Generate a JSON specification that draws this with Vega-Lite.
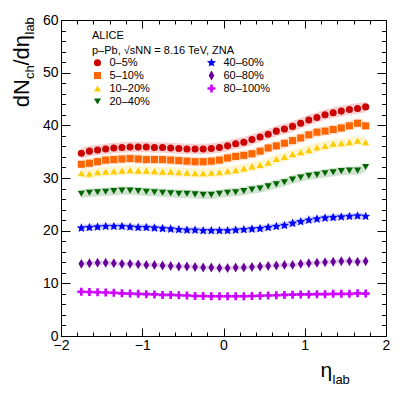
{
"$schema": "https://vega.github.io/schema/vega-lite/v6.json",
"width": 325, "height": 316,
"autosize": "none",
"padding": {"left": 61, "top": 20, "right": 21, "bottom": 60},
"background": "white",
"config": {
  "view": {"stroke": "black", "strokeWidth": 1},
  "font": "Liberation Sans",
  "axis": {"grid": false, "labelFont": "Liberation Sans", "titleFont": "Liberation Sans", "tickColor": "black", "domainColor": "black", "labelColor": "black", "titleColor": "black", "titleFontWeight": "normal", "tickWidth": 1, "domainWidth": 1, "labelFlush": false, "labelOverlap": false, "labelBound": false}
},
"data": {"values": [
{"c":"0–5%","x":-1.75,"v":34.7,"e":1.0},{"c":"0–5%","x":-1.65,"v":35.1,"e":1.0},{"c":"0–5%","x":-1.55,"v":35.3,"e":1.0},{"c":"0–5%","x":-1.45,"v":35.5,"e":1.0},{"c":"0–5%","x":-1.35,"v":35.7,"e":1.0},{"c":"0–5%","x":-1.25,"v":35.8,"e":1.0},{"c":"0–5%","x":-1.15,"v":35.9,"e":1.0},{"c":"0–5%","x":-1.05,"v":35.9,"e":1.0},{"c":"0–5%","x":-0.95,"v":35.9,"e":1.0},{"c":"0–5%","x":-0.85,"v":35.8,"e":1.0},{"c":"0–5%","x":-0.75,"v":35.8,"e":1.0},{"c":"0–5%","x":-0.65,"v":35.7,"e":1.0},{"c":"0–5%","x":-0.55,"v":35.6,"e":1.0},{"c":"0–5%","x":-0.45,"v":35.5,"e":1.0},{"c":"0–5%","x":-0.35,"v":35.5,"e":1.0},{"c":"0–5%","x":-0.25,"v":35.5,"e":1.0},{"c":"0–5%","x":-0.15,"v":35.6,"e":1.0},{"c":"0–5%","x":-0.05,"v":35.8,"e":1.0},{"c":"0–5%","x":0.05,"v":36.1,"e":1.0},{"c":"0–5%","x":0.15,"v":36.5,"e":1.0},{"c":"0–5%","x":0.25,"v":36.8,"e":1.0},{"c":"0–5%","x":0.35,"v":37.3,"e":1.0},{"c":"0–5%","x":0.45,"v":37.8,"e":1.0},{"c":"0–5%","x":0.55,"v":38.3,"e":1.0},{"c":"0–5%","x":0.65,"v":38.9,"e":1.0},{"c":"0–5%","x":0.75,"v":39.3,"e":1.0},{"c":"0–5%","x":0.85,"v":39.8,"e":1.0},{"c":"0–5%","x":0.95,"v":40.4,"e":1.0},{"c":"0–5%","x":1.05,"v":41.0,"e":1.0},{"c":"0–5%","x":1.15,"v":41.5,"e":1.0},{"c":"0–5%","x":1.25,"v":42.0,"e":1.0},{"c":"0–5%","x":1.35,"v":42.4,"e":1.0},{"c":"0–5%","x":1.45,"v":42.7,"e":1.0},{"c":"0–5%","x":1.55,"v":43.0,"e":1.0},{"c":"0–5%","x":1.65,"v":43.2,"e":1.0},{"c":"0–5%","x":1.75,"v":43.5,"e":1.0},
{"c":"5–10%","x":-1.75,"v":32.6,"e":0.9},{"c":"5–10%","x":-1.65,"v":32.8,"e":0.9},{"c":"5–10%","x":-1.55,"v":33.1,"e":0.9},{"c":"5–10%","x":-1.45,"v":33.4,"e":0.9},{"c":"5–10%","x":-1.35,"v":33.5,"e":0.9},{"c":"5–10%","x":-1.25,"v":33.6,"e":0.9},{"c":"5–10%","x":-1.15,"v":33.7,"e":0.9},{"c":"5–10%","x":-1.05,"v":33.6,"e":0.9},{"c":"5–10%","x":-0.95,"v":33.5,"e":0.9},{"c":"5–10%","x":-0.85,"v":33.5,"e":0.9},{"c":"5–10%","x":-0.75,"v":33.5,"e":0.9},{"c":"5–10%","x":-0.65,"v":33.4,"e":0.9},{"c":"5–10%","x":-0.55,"v":33.3,"e":0.9},{"c":"5–10%","x":-0.45,"v":33.2,"e":0.9},{"c":"5–10%","x":-0.35,"v":33.1,"e":0.9},{"c":"5–10%","x":-0.25,"v":33.1,"e":0.9},{"c":"5–10%","x":-0.15,"v":33.2,"e":0.9},{"c":"5–10%","x":-0.05,"v":33.4,"e":0.9},{"c":"5–10%","x":0.05,"v":33.8,"e":0.9},{"c":"5–10%","x":0.15,"v":34.1,"e":0.9},{"c":"5–10%","x":0.25,"v":34.3,"e":0.9},{"c":"5–10%","x":0.35,"v":34.6,"e":0.9},{"c":"5–10%","x":0.45,"v":35.1,"e":0.9},{"c":"5–10%","x":0.55,"v":35.7,"e":0.9},{"c":"5–10%","x":0.65,"v":36.1,"e":0.9},{"c":"5–10%","x":0.75,"v":36.6,"e":0.9},{"c":"5–10%","x":0.85,"v":37.1,"e":0.9},{"c":"5–10%","x":0.95,"v":37.6,"e":0.9},{"c":"5–10%","x":1.05,"v":38.2,"e":0.9},{"c":"5–10%","x":1.15,"v":38.7,"e":0.9},{"c":"5–10%","x":1.25,"v":38.9,"e":0.9},{"c":"5–10%","x":1.35,"v":39.2,"e":0.9},{"c":"5–10%","x":1.45,"v":39.5,"e":0.9},{"c":"5–10%","x":1.55,"v":39.9,"e":0.9},{"c":"5–10%","x":1.65,"v":40.4,"e":0.9},{"c":"5–10%","x":1.75,"v":39.9,"e":0.9},
{"c":"10–20%","x":-1.75,"v":30.9,"e":0.9},{"c":"10–20%","x":-1.65,"v":30.8,"e":0.9},{"c":"10–20%","x":-1.55,"v":31.1,"e":0.9},{"c":"10–20%","x":-1.45,"v":31.2,"e":0.9},{"c":"10–20%","x":-1.35,"v":31.3,"e":0.9},{"c":"10–20%","x":-1.25,"v":31.4,"e":0.9},{"c":"10–20%","x":-1.15,"v":31.5,"e":0.9},{"c":"10–20%","x":-1.05,"v":31.4,"e":0.9},{"c":"10–20%","x":-0.95,"v":31.4,"e":0.9},{"c":"10–20%","x":-0.85,"v":31.3,"e":0.9},{"c":"10–20%","x":-0.75,"v":31.2,"e":0.9},{"c":"10–20%","x":-0.65,"v":31.2,"e":0.9},{"c":"10–20%","x":-0.55,"v":31.1,"e":0.9},{"c":"10–20%","x":-0.45,"v":31.0,"e":0.9},{"c":"10–20%","x":-0.35,"v":30.9,"e":0.9},{"c":"10–20%","x":-0.25,"v":30.9,"e":0.9},{"c":"10–20%","x":-0.15,"v":31.0,"e":0.9},{"c":"10–20%","x":-0.05,"v":31.1,"e":0.9},{"c":"10–20%","x":0.05,"v":31.3,"e":0.9},{"c":"10–20%","x":0.15,"v":31.5,"e":0.9},{"c":"10–20%","x":0.25,"v":31.8,"e":0.9},{"c":"10–20%","x":0.35,"v":32.2,"e":0.9},{"c":"10–20%","x":0.45,"v":32.5,"e":0.9},{"c":"10–20%","x":0.55,"v":32.9,"e":0.9},{"c":"10–20%","x":0.65,"v":33.6,"e":0.9},{"c":"10–20%","x":0.75,"v":34.0,"e":0.9},{"c":"10–20%","x":0.85,"v":34.5,"e":0.9},{"c":"10–20%","x":0.95,"v":34.9,"e":0.9},{"c":"10–20%","x":1.05,"v":35.3,"e":0.9},{"c":"10–20%","x":1.15,"v":35.8,"e":0.9},{"c":"10–20%","x":1.25,"v":36.1,"e":0.9},{"c":"10–20%","x":1.35,"v":36.5,"e":0.9},{"c":"10–20%","x":1.45,"v":36.6,"e":0.9},{"c":"10–20%","x":1.55,"v":36.8,"e":0.9},{"c":"10–20%","x":1.65,"v":37.1,"e":0.9},{"c":"10–20%","x":1.75,"v":36.8,"e":0.9},
{"c":"20–40%","x":-1.75,"v":27.0,"e":0.8},{"c":"20–40%","x":-1.65,"v":27.2,"e":0.8},{"c":"20–40%","x":-1.55,"v":27.3,"e":0.8},{"c":"20–40%","x":-1.45,"v":27.4,"e":0.8},{"c":"20–40%","x":-1.35,"v":27.5,"e":0.8},{"c":"20–40%","x":-1.25,"v":27.6,"e":0.8},{"c":"20–40%","x":-1.15,"v":27.6,"e":0.8},{"c":"20–40%","x":-1.05,"v":27.5,"e":0.8},{"c":"20–40%","x":-0.95,"v":27.4,"e":0.8},{"c":"20–40%","x":-0.85,"v":27.3,"e":0.8},{"c":"20–40%","x":-0.75,"v":27.2,"e":0.8},{"c":"20–40%","x":-0.65,"v":27.1,"e":0.8},{"c":"20–40%","x":-0.55,"v":27.0,"e":0.8},{"c":"20–40%","x":-0.45,"v":27.0,"e":0.8},{"c":"20–40%","x":-0.35,"v":26.9,"e":0.8},{"c":"20–40%","x":-0.25,"v":26.8,"e":0.8},{"c":"20–40%","x":-0.15,"v":26.8,"e":0.8},{"c":"20–40%","x":-0.05,"v":27.0,"e":0.8},{"c":"20–40%","x":0.05,"v":27.2,"e":0.8},{"c":"20–40%","x":0.15,"v":27.3,"e":0.8},{"c":"20–40%","x":0.25,"v":27.5,"e":0.8},{"c":"20–40%","x":0.35,"v":27.8,"e":0.8},{"c":"20–40%","x":0.45,"v":28.0,"e":0.8},{"c":"20–40%","x":0.55,"v":28.4,"e":0.8},{"c":"20–40%","x":0.65,"v":28.8,"e":0.8},{"c":"20–40%","x":0.75,"v":29.2,"e":0.8},{"c":"20–40%","x":0.85,"v":29.7,"e":0.8},{"c":"20–40%","x":0.95,"v":30.1,"e":0.8},{"c":"20–40%","x":1.05,"v":30.4,"e":0.8},{"c":"20–40%","x":1.15,"v":30.6,"e":0.8},{"c":"20–40%","x":1.25,"v":30.9,"e":0.8},{"c":"20–40%","x":1.35,"v":31.1,"e":0.8},{"c":"20–40%","x":1.45,"v":31.3,"e":0.8},{"c":"20–40%","x":1.55,"v":31.4,"e":0.8},{"c":"20–40%","x":1.65,"v":31.4,"e":0.8},{"c":"20–40%","x":1.75,"v":32.1,"e":0.8},
{"c":"40–60%","x":-1.75,"v":20.5,"e":0.6},{"c":"40–60%","x":-1.65,"v":20.6,"e":0.6},{"c":"40–60%","x":-1.55,"v":20.7,"e":0.6},{"c":"40–60%","x":-1.45,"v":20.8,"e":0.6},{"c":"40–60%","x":-1.35,"v":20.8,"e":0.6},{"c":"40–60%","x":-1.25,"v":20.8,"e":0.6},{"c":"40–60%","x":-1.15,"v":20.7,"e":0.6},{"c":"40–60%","x":-1.05,"v":20.6,"e":0.6},{"c":"40–60%","x":-0.95,"v":20.6,"e":0.6},{"c":"40–60%","x":-0.85,"v":20.5,"e":0.6},{"c":"40–60%","x":-0.75,"v":20.4,"e":0.6},{"c":"40–60%","x":-0.65,"v":20.3,"e":0.6},{"c":"40–60%","x":-0.55,"v":20.2,"e":0.6},{"c":"40–60%","x":-0.45,"v":20.1,"e":0.6},{"c":"40–60%","x":-0.35,"v":20.1,"e":0.6},{"c":"40–60%","x":-0.25,"v":20.0,"e":0.6},{"c":"40–60%","x":-0.15,"v":20.0,"e":0.6},{"c":"40–60%","x":-0.05,"v":20.0,"e":0.6},{"c":"40–60%","x":0.05,"v":20.0,"e":0.6},{"c":"40–60%","x":0.15,"v":20.1,"e":0.6},{"c":"40–60%","x":0.25,"v":20.2,"e":0.6},{"c":"40–60%","x":0.35,"v":20.3,"e":0.6},{"c":"40–60%","x":0.45,"v":20.4,"e":0.6},{"c":"40–60%","x":0.55,"v":20.6,"e":0.6},{"c":"40–60%","x":0.65,"v":20.8,"e":0.6},{"c":"40–60%","x":0.75,"v":21.0,"e":0.6},{"c":"40–60%","x":0.85,"v":21.4,"e":0.6},{"c":"40–60%","x":0.95,"v":21.7,"e":0.6},{"c":"40–60%","x":1.05,"v":22.0,"e":0.6},{"c":"40–60%","x":1.15,"v":22.2,"e":0.6},{"c":"40–60%","x":1.25,"v":22.4,"e":0.6},{"c":"40–60%","x":1.35,"v":22.5,"e":0.6},{"c":"40–60%","x":1.45,"v":22.6,"e":0.6},{"c":"40–60%","x":1.55,"v":22.7,"e":0.6},{"c":"40–60%","x":1.65,"v":22.8,"e":0.6},{"c":"40–60%","x":1.75,"v":22.7,"e":0.6},
{"c":"60–80%","x":-1.75,"v":13.7,"e":0.4},{"c":"60–80%","x":-1.65,"v":13.8,"e":0.4},{"c":"60–80%","x":-1.55,"v":13.9,"e":0.4},{"c":"60–80%","x":-1.45,"v":13.9,"e":0.4},{"c":"60–80%","x":-1.35,"v":13.8,"e":0.4},{"c":"60–80%","x":-1.25,"v":13.7,"e":0.4},{"c":"60–80%","x":-1.15,"v":13.7,"e":0.4},{"c":"60–80%","x":-1.05,"v":13.6,"e":0.4},{"c":"60–80%","x":-0.95,"v":13.5,"e":0.4},{"c":"60–80%","x":-0.85,"v":13.5,"e":0.4},{"c":"60–80%","x":-0.75,"v":13.4,"e":0.4},{"c":"60–80%","x":-0.65,"v":13.3,"e":0.4},{"c":"60–80%","x":-0.55,"v":13.2,"e":0.4},{"c":"60–80%","x":-0.45,"v":13.2,"e":0.4},{"c":"60–80%","x":-0.35,"v":13.1,"e":0.4},{"c":"60–80%","x":-0.25,"v":13.0,"e":0.4},{"c":"60–80%","x":-0.15,"v":13.0,"e":0.4},{"c":"60–80%","x":-0.05,"v":12.9,"e":0.4},{"c":"60–80%","x":0.05,"v":12.9,"e":0.4},{"c":"60–80%","x":0.15,"v":13.0,"e":0.4},{"c":"60–80%","x":0.25,"v":13.0,"e":0.4},{"c":"60–80%","x":0.35,"v":13.1,"e":0.4},{"c":"60–80%","x":0.45,"v":13.2,"e":0.4},{"c":"60–80%","x":0.55,"v":13.3,"e":0.4},{"c":"60–80%","x":0.65,"v":13.4,"e":0.4},{"c":"60–80%","x":0.75,"v":13.5,"e":0.4},{"c":"60–80%","x":0.85,"v":13.5,"e":0.4},{"c":"60–80%","x":0.95,"v":13.7,"e":0.4},{"c":"60–80%","x":1.05,"v":13.8,"e":0.4},{"c":"60–80%","x":1.15,"v":13.9,"e":0.4},{"c":"60–80%","x":1.25,"v":14.0,"e":0.4},{"c":"60–80%","x":1.35,"v":14.1,"e":0.4},{"c":"60–80%","x":1.45,"v":14.2,"e":0.4},{"c":"60–80%","x":1.55,"v":14.2,"e":0.4},{"c":"60–80%","x":1.65,"v":14.1,"e":0.4},{"c":"60–80%","x":1.75,"v":14.2,"e":0.4},
{"c":"80–100%","x":-1.75,"v":8.4,"e":0.3},{"c":"80–100%","x":-1.65,"v":8.35,"e":0.3},{"c":"80–100%","x":-1.55,"v":8.3,"e":0.3},{"c":"80–100%","x":-1.45,"v":8.25,"e":0.3},{"c":"80–100%","x":-1.35,"v":8.2,"e":0.3},{"c":"80–100%","x":-1.25,"v":8.1,"e":0.3},{"c":"80–100%","x":-1.15,"v":8.05,"e":0.3},{"c":"80–100%","x":-1.05,"v":8.0,"e":0.3},{"c":"80–100%","x":-0.95,"v":7.95,"e":0.3},{"c":"80–100%","x":-0.85,"v":7.9,"e":0.3},{"c":"80–100%","x":-0.75,"v":7.8,"e":0.3},{"c":"80–100%","x":-0.65,"v":7.8,"e":0.3},{"c":"80–100%","x":-0.55,"v":7.75,"e":0.3},{"c":"80–100%","x":-0.45,"v":7.7,"e":0.3},{"c":"80–100%","x":-0.35,"v":7.6,"e":0.3},{"c":"80–100%","x":-0.25,"v":7.6,"e":0.3},{"c":"80–100%","x":-0.15,"v":7.55,"e":0.3},{"c":"80–100%","x":-0.05,"v":7.55,"e":0.3},{"c":"80–100%","x":0.05,"v":7.55,"e":0.3},{"c":"80–100%","x":0.15,"v":7.55,"e":0.3},{"c":"80–100%","x":0.25,"v":7.55,"e":0.3},{"c":"80–100%","x":0.35,"v":7.6,"e":0.3},{"c":"80–100%","x":0.45,"v":7.65,"e":0.3},{"c":"80–100%","x":0.55,"v":7.7,"e":0.3},{"c":"80–100%","x":0.65,"v":7.75,"e":0.3},{"c":"80–100%","x":0.75,"v":7.8,"e":0.3},{"c":"80–100%","x":0.85,"v":7.85,"e":0.3},{"c":"80–100%","x":0.95,"v":7.9,"e":0.3},{"c":"80–100%","x":1.05,"v":7.9,"e":0.3},{"c":"80–100%","x":1.15,"v":7.95,"e":0.3},{"c":"80–100%","x":1.25,"v":7.95,"e":0.3},{"c":"80–100%","x":1.35,"v":8.0,"e":0.3},{"c":"80–100%","x":1.45,"v":8.0,"e":0.3},{"c":"80–100%","x":1.55,"v":8.0,"e":0.3},{"c":"80–100%","x":1.65,"v":8.1,"e":0.3},{"c":"80–100%","x":1.75,"v":8.05,"e":0.3}
]},
"layer": [
  {
    "mark": {"type": "errorband", "interpolate": "monotone", "borders": false, "opacity": 0.18},
    "encoding": {
      "x": {"field": "x", "type": "quantitative", "scale": {"domain": [-2, 2], "nice": false, "zero": false}, "axis": null},
      "y": {"field": "v", "type": "quantitative", "scale": {"domain": [0, 60], "nice": false}, "axis": null},
      "yError": {"field": "e"},
      "fill": {"field": "c", "type": "nominal", "legend": null,
        "scale": {"domain": ["0–5%","40–60%","5–10%","60–80%","10–20%","80–100%","20–40%"], "range": ["#cc0000","#0000ff","#ff6600","#660099","#ffcc00","#cc00ff","#006600"]}}
    }
  },
  {
    "mark": {"type": "point", "filled": true, "opacity": 1, "strokeWidth": 0, "size": 50},
    "encoding": {
      "x": {"field": "x", "type": "quantitative", "axis": {"orient": "bottom", "values": [-2, -1, 0, 1, 2], "tickSize": -8, "labelPadding": 10, "labelFontSize": 14, "domain": true,
        "title": "η", "titleFontSize": 21, "titleX": 259, "titleY": 40, "titleAlign": "left", "titleBaseline": "alphabetic", "titleAngle": 0}},
      "y": {"field": "v", "type": "quantitative", "axis": {"orient": "left", "values": [0, 10, 20, 30, 40, 50, 60], "tickSize": -9, "labelPadding": 12, "labelFontSize": 14, "domain": true,
        "title": "dN", "titleFontSize": 22, "titleX": -32.5, "titleY": 86.7, "titleAlign": "left", "titleBaseline": "alphabetic", "titleAngle": 270}},
      "color": {"field": "c", "type": "nominal",
        "scale": {"domain": ["0–5%","5–10%","10–20%","20–40%","40–60%","60–80%","80–100%"], "range": ["#cc0000","#ff6600","#ffcc00","#006600","#0000ff","#660099","#cc00ff"]},
        "legend": {"title": ["\u00a0\u00a0\u00a0\u00a0\u00a0ALICE", "\u00a0\u00a0\u00a0\u00a0\u00a0p–Pb, √sNN = 8.16 TeV, ZNA"], "orient": "none", "legendX": 31, "legendY": 10, "columns": 2, "columnPadding": 56, "rowPadding": 1, "symbolSize": 50, "symbolStrokeWidth": 0, "symbolOpacity": 1, "labelFontSize": 11, "labelFont": "Liberation Sans", "labelColor": "black", "titleFontSize": 11, "titleFont": "Liberation Sans", "titleFontWeight": "normal", "titleColor": "black", "titleLineHeight": 15, "titlePadding": 1, "labelOffset": 6.5, "padding": 0, "labelLimit": 200}},
      "shape": {"field": "c", "type": "nominal",
        "scale": {"domain": ["0–5%","5–10%","10–20%","20–40%","40–60%","60–80%","80–100%"], "range": ["circle","square","triangle-up","triangle-down","M0,-1.35L0.358,-0.491L1.284,-0.417L0.578,0.188L0.794,1.092L0,0.608L-0.794,1.092L-0.578,0.188L-1.284,-0.417L-0.358,-0.491Z","M0,-1.4L0.8,0L0,1.4L-0.8,0Z","M-0.37,-1.13H0.37V-0.37H1.13V0.37H0.37V1.13H-0.37V0.37H-1.13V-0.37H-0.37Z"]}}
    }
  },
  {
    "mark": {"type": "point", "opacity": 0},
    "encoding": {
      "x": {"field": "x", "type": "quantitative", "axis": {"orient": "bottom", "values": [-1.8,-1.6,-1.4,-1.2,-0.8,-0.6,-0.4,-0.2,0.2,0.4,0.6,0.8,1.2,1.4,1.6,1.8], "tickSize": -4, "labels": false, "domain": false,
        "title": "lab", "titleFontSize": 13, "titleX": 271, "titleY": 47, "titleAlign": "left", "titleBaseline": "alphabetic", "titleAngle": 0}},
      "y": {"field": "v", "type": "quantitative", "axis": {"orient": "left", "values": [2,4,6,8,12,14,16,18,22,24,26,28,32,34,36,38,42,44,46,48,52,54,56,58], "tickSize": -4.5, "labels": false, "domain": false,
        "title": "ch", "titleFontSize": 13, "titleX": -28, "titleY": 58.5, "titleAlign": "left", "titleBaseline": "alphabetic", "titleAngle": 270}}
    }
  },
  {
    "mark": {"type": "point", "opacity": 0},
    "encoding": {
      "x": {"field": "x", "type": "quantitative", "axis": {"orient": "top", "values": [-2, -1, 0, 1, 2], "tickSize": -8, "labels": false, "domain": true, "title": null}},
      "y": {"field": "v", "type": "quantitative", "axis": {"orient": "right", "values": [0, 10, 20, 30, 40, 50, 60], "tickSize": -9, "labels": false, "domain": true,
        "title": "/dη", "titleFontSize": 22, "titleX": -357.5, "titleY": 45, "titleAlign": "left", "titleBaseline": "alphabetic", "titleAngle": 270}}
    }
  },
  {
    "mark": {"type": "point", "opacity": 0},
    "encoding": {
      "x": {"field": "x", "type": "quantitative", "axis": {"orient": "top", "values": [-1.8,-1.6,-1.4,-1.2,-0.8,-0.6,-0.4,-0.2,0.2,0.4,0.6,0.8,1.2,1.4,1.6,1.8], "tickSize": -4, "labels": false, "domain": false, "title": null}},
      "y": {"field": "v", "type": "quantitative", "axis": {"orient": "right", "values": [2,4,6,8,12,14,16,18,22,24,26,28,32,34,36,38,42,44,46,48,52,54,56,58], "tickSize": -4.5, "labels": false, "domain": false,
        "title": "lab", "titleFontSize": 13, "titleX": -353, "titleY": 14, "titleAlign": "left", "titleBaseline": "alphabetic", "titleAngle": 270}}
    }
  }
],
"resolve": {"axis": {"x": "independent", "y": "independent"}}
}
